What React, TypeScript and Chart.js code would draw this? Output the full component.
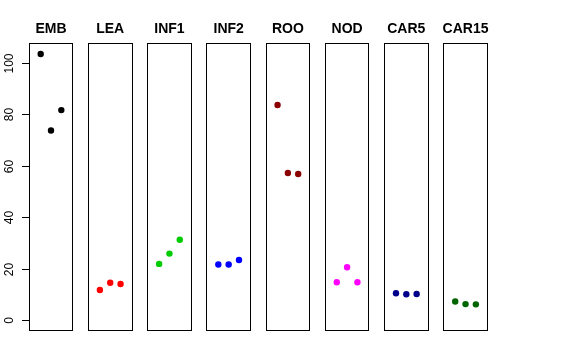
import React, { useEffect, useRef } from "react";
import { Chart, registerables } from "chart.js";

Chart.register(...registerables);

const panelNames = ["EMB", "LEA", "INF1", "INF2", "ROO", "NOD", "CAR5", "CAR15"];
const panelColors = ["#000000", "#FF0000", "#00CD00", "#0000FF", "#8B0000", "#FF00FF", "#00008B", "#006400"];
const EMB = [103.4, 73.7, 81.6];
const LEA = [11.8, 14.6, 14.1];
const INF1 = [21.9, 25.9, 31.3];
const INF2 = [21.7, 21.7, 23.4];
const ROO = [83.6, 57.2, 56.8];
const NOD = [14.8, 20.6, 14.8];
const CAR5 = [10.5, 10.1, 10.2];
const CAR15 = [7.3, 6.3, 6.2];
const panelValues = [EMB, LEA, INF1, INF2, ROO, NOD, CAR5, CAR15];
const replicates = [1, 2, 3];
const yTicks = [0, 20, 40, 60, 80, 100];

const W = 576;
const H = 360;
const PLOT_TOP = 43.3;
const PLOT_BOTTOM = 331;
const FIRST_LEFT = 28.7;
const STEP = 59.22;
const PANEL_W = 44.6;
const Y_MIN = -4.136;
const Y_MAX = 107.536;
const X_MIN = -0.16;
const X_MAX = 4.16;

function Panel({ index }: { index: number }) {
  const ref = useRef<HTMLCanvasElement | null>(null);
  useEffect(() => {
    const canvas = ref.current;
    if (!canvas) return;
    const left = FIRST_LEFT + STEP * index;
    const right = left + PANEL_W;
    const values = panelValues[index];
    const color = panelColors[index];
    const name = panelNames[index];

    const decor = {
      id: "decor" + index,
      afterDraw(chart: any) {
        const ctx = chart.ctx;
        const ca = chart.chartArea;
        ctx.save();
        ctx.strokeStyle = "#000";
        ctx.lineWidth = 1;
        const l = Math.round(ca.left) + 0.5;
        const r = Math.round(ca.right) - 0.5;
        const t = Math.round(ca.top) + 0.5;
        const b = Math.round(ca.bottom) - 0.5;
        ctx.strokeRect(l, t, r - l, b - t);
        // title
        ctx.fillStyle = "#000";
        ctx.font = "bold 14px 'Liberation Sans', Arial, Helvetica, sans-serif";
        ctx.textAlign = "center";
        ctx.textBaseline = "middle";
        ctx.fillText(name, (ca.left + ca.right) / 2, 29);
        if (index === 0) {
          const ys = chart.scales.y;
          const y0 = Math.round(ys.getPixelForValue(yTicks[0])) + 0.5;
          const y1 = Math.round(ys.getPixelForValue(yTicks[yTicks.length - 1])) + 0.5;
          ctx.beginPath();
          ctx.moveTo(l, y0);
          ctx.lineTo(l, y1);
          ctx.stroke();
          ctx.font = "12px 'Liberation Sans', Arial, Helvetica, sans-serif";
          ctx.textAlign = "center";
          ctx.textBaseline = "alphabetic";
          for (const v of yTicks) {
            const py = Math.round(ys.getPixelForValue(v)) + 0.5;
            ctx.beginPath();
            ctx.moveTo(l, py);
            ctx.lineTo(l - 7.5, py);
            ctx.stroke();
            ctx.save();
            ctx.translate(12.5, py);
            ctx.rotate(-Math.PI / 2);
            ctx.fillText(String(v), 0, 0);
            ctx.restore();
          }
        }
        ctx.restore();
      },
    };

    const chart = new Chart(canvas, {
      type: "scatter",
      data: {
        datasets: [
          {
            data: replicates.map((x, i) => ({ x, y: values[i] })),
            backgroundColor: color,
            borderColor: color,
            pointRadius: 3.2,
            borderWidth: 0,
          },
        ],
      },
      options: {
        responsive: false,
        animation: false,
        events: [],
        layout: {
          padding: { left, right: W - right, top: PLOT_TOP, bottom: H - PLOT_BOTTOM },
        },
        plugins: { legend: { display: false }, tooltip: { enabled: false }, title: { display: false } },
        scales: {
          x: { type: "linear", min: X_MIN, max: X_MAX, display: false },
          y: { type: "linear", min: Y_MIN, max: Y_MAX, display: false },
        },
      },
      plugins: [decor],
    });
    return () => chart.destroy();
  }, [index]);
  return (
    <canvas
      ref={ref}
      width={W}
      height={H}
      style={{ position: "absolute", left: 0, top: 0, width: W, height: H }}
    />
  );
}

export default function App() {
  return (
    <div style={{ position: "fixed", left: 0, top: 0, width: W, height: H, background: "#fff" }}>
      {panelNames.map((_, i) => (
        <Panel key={i} index={i} />
      ))}
    </div>
  );
}
